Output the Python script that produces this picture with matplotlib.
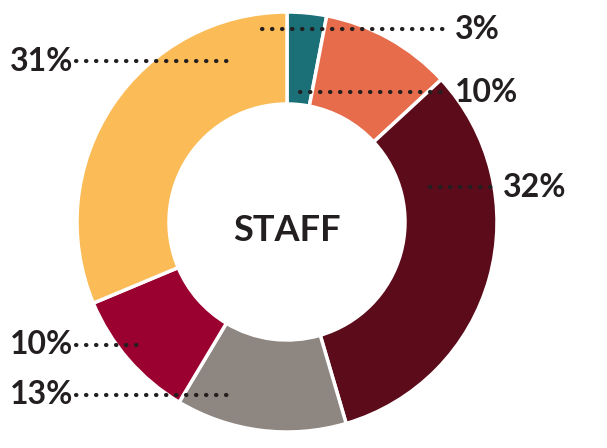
import matplotlib
matplotlib.use("Agg")
import matplotlib.pyplot as plt

# ==========================
# Data
# ==========================
shares = [3, 10, 32, 13, 10, 31]
labels = ["3%", "10%", "32%", "13%", "10%", "31%"]
colors = ["#1b6f76", "#e66c4b", "#5b0b19", "#8e8680", "#9a0030", "#fbbb56"]

# label layout (pixel coords, y from top): line start x, line end x, y, text x, side
label_pos = [
    (262, 450, 29, 455, "left"),
    (300, 448, 92, 455, "left"),
    (430, 500, 187, 503, "left"),
    (76, 232, 395, 73, "right"),
    (76, 146, 345, 73, "right"),
    (76, 234, 61, 73, "right"),
]

W, H = 607, 448
CX, CY, R = 287, 222, 210
text_col = "#231f20"

fig = plt.figure(figsize=(W / 100, H / 100), dpi=100)
ax = fig.add_axes([0, 0, 1, 1])

ax.pie(
    shares, colors=colors, startangle=90, counterclock=False,
    center=(CX, H - CY), radius=R,
    wedgeprops=dict(width=R - 118, edgecolor="white", linewidth=2.5),
)
ax.set_xlim(0, W)
ax.set_ylim(0, H)
ax.set_aspect("equal")
ax.axis("off")

# dotted leader lines + labels
for lab, (x0, x1, y, tx, ha) in zip(labels, label_pos):
    ax.plot([x0, x1], [H - y, H - y], color=text_col, lw=3,
            linestyle=(0, (0.1, 2.3)), dash_capstyle="round", zorder=5)
    ax.text(tx, H - y, lab, ha=ha, va="center", fontsize=23,
            fontweight="bold", family="Lato", color=text_col)

ax.text(CX, H - 230, "STAFF", ha="center", va="center", fontsize=26,
        fontweight="bold", family="Lato", color=text_col)

fig.savefig("out.png", dpi=100)
